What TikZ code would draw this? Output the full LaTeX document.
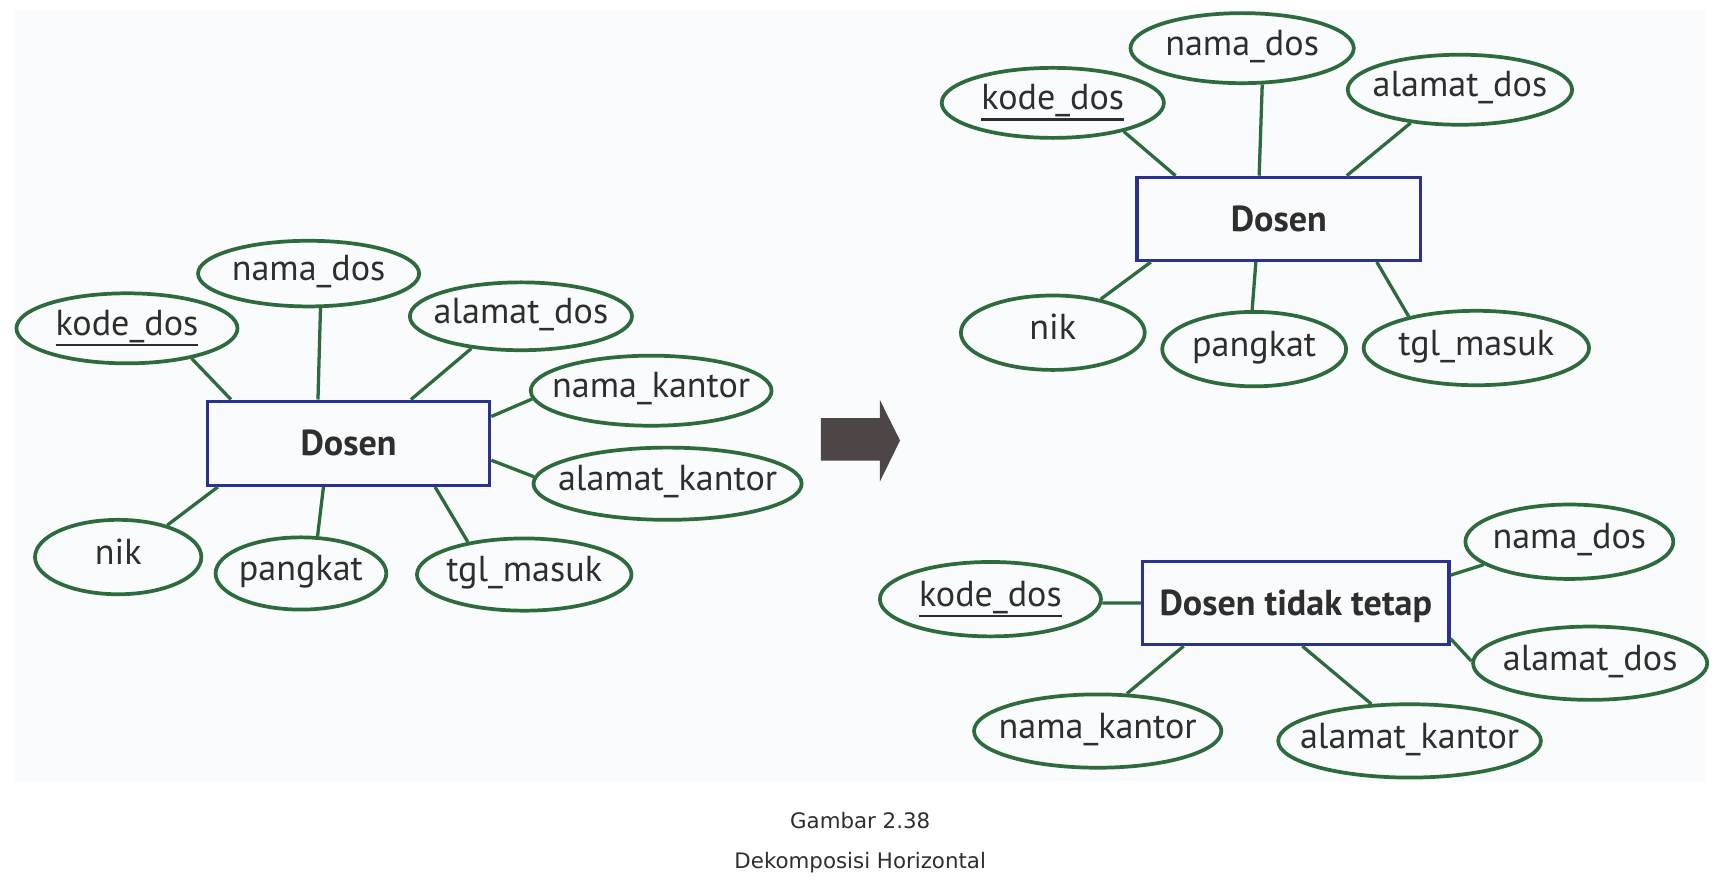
\documentclass[tikz,border=0pt]{standalone}
\usepackage{fontspec}
\setmainfont{PT Sans}
\newfontfamily\capfont{DejaVu Sans}
\usetikzlibrary{shapes.geometric,calc}
\definecolor{attrgreen}{HTML}{2E6B3C}
\definecolor{entblue}{HTML}{2B3190}
\definecolor{arrgray}{HTML}{4D4546}
\definecolor{txtgray}{HTML}{2E2E2E}
\definecolor{bgpaper}{HTML}{F9FBFD}
\newcommand{\attr}[1]{\makebox[0pt]{#1}}
\newcommand{\keyline}[1]{\setbox0=\hbox{#1}\rlap{\smash{\rule[-10pt]{\wd0}{2.4pt}}}\box0}

\begin{document}
\begin{tikzpicture}[x=1pt,y=-1pt,
    attr/.style={ellipse,draw=attrgreen,line width=3.4pt,inner sep=0pt,text=txtgray,
      text height=21pt,text depth=8pt,font=\fontsize{33}{37}\selectfont},
    ent/.style={rectangle,draw=entblue,line width=2.9pt,inner sep=0pt,text=txtgray,
      text height=23pt,text depth=0pt,font=\fontsize{33}{37}\selectfont\bfseries},
    link/.style={draw=attrgreen,line width=3pt},
    capt/.style={anchor=base,text=txtgray,font=\capfont\fontsize{19.5}{23}\selectfont}]
    \useasboundingbox (0,0) rectangle (1568,811);
    \fill[bgpaper] (13.7,9.1) rectangle (1559,714.5);

    \node[ent,minimum width=258,minimum height=77] (dosenL) at (318.5,405) {Dosen};
    \node[attr,minimum width=202,minimum height=64] (kodeL) at (116,300) {\attr{\keyline{kode\_dos}}};
    \node[attr,minimum width=202,minimum height=60] (namaL) at (282,250) {\attr{nama\_dos}};
    \node[attr,minimum width=203,minimum height=62] (alamatL) at (476,289) {\attr{alamat\_dos}};
    \node[attr,minimum width=220,minimum height=64] (nkantorL) at (595,357) {\attr{nama\_kantor}};
    \node[attr,minimum width=245,minimum height=66] (akantorL) at (610,442) {\attr{alamat\_kantor}};
    \node[attr,minimum width=152,minimum height=68] (nikL) at (108,509) {\attr{nik}};
    \node[attr,minimum width=156,minimum height=66] (pangkatL) at (275,524) {\attr{pangkat}};
    \node[attr,minimum width=196,minimum height=66] (tglL) at (479,525) {\attr{tgl\_masuk}};
    \draw[link] (kodeL.-25) -- ($(dosenL.north west)+(23,0)$);
    \draw[link] (namaL.-71.5) -- ($(dosenL.north west)+(102.5,0)$);
    \draw[link] (alamatL.-147) -- ($(dosenL.north west)+(187.5,0)$);
    \draw[link] (nkantorL.184) -- ($(dosenL.north east)+(0,15.5)$);
    \draw[link] (akantorL.177.6) -- ($(dosenL.north east)+(0,55.5)$);
    \draw[link] (nikL.33.6) -- ($(dosenL.south west)+(11,0)$);
    \draw[link] (pangkatL.66.4) -- ($(dosenL.south west)+(107.5,0)$);
    \draw[link] (tglL.150) -- ($(dosenL.south west)+(209.5,0)$);

    \fill[arrgray] (750,382) -- (804,382) -- (804,365.5) -- (822.4,402.5) -- (804,440) -- (804,421) -- (750,421) -- cycle;

    \node[ent,minimum width=259,minimum height=76] (dosenU) at (1168.5,200) {Dosen};
    \node[attr,minimum width=203,minimum height=64] (kodeU) at (962,94) {\attr{\keyline{kode\_dos}}};
    \node[attr,minimum width=204,minimum height=64] (namaU) at (1135,44) {\attr{nama\_dos}};
    \node[attr,minimum width=205,minimum height=64] (alamatU) at (1334,82) {\attr{alamat\_dos}};
    \node[attr,minimum width=168,minimum height=68] (nikU) at (962,304) {\attr{nik}};
    \node[attr,minimum width=168,minimum height=68] (pangkatU) at (1146,319) {\attr{pangkat}};
    \node[attr,minimum width=206,minimum height=68] (tglU) at (1349,318) {\attr{tgl\_masuk}};
    \draw[link] (kodeU.-22.3) -- ($(dosenU.north west)+(36.6,0)$);
    \draw[link] (namaU.-61.7) -- ($(dosenU.north west)+(113,0)$);
    \draw[link] (alamatU.-146.4) -- ($(dosenU.north west)+(193,0)$);
    \draw[link] (nikU.35) -- ($(dosenU.south west)+(14,0)$);
    \draw[link] (pangkatU.93) -- ($(dosenU.south west)+(110,0)$);
    \draw[link] (tglU.155.8) -- ($(dosenU.south west)+(220.5,0)$);

    \node[ent,minimum width=280,minimum height=76] (dosenT) at (1184,551) {Dosen tidak tetap};
    \node[attr,minimum width=202,minimum height=68] (kodeB) at (905,547.5) {\attr{\keyline{kode\_dos}}};
    \node[attr,minimum width=190,minimum height=68] (namaB) at (1434,495) {\attr{nama\_dos}};
    \node[attr,minimum width=214,minimum height=67] (alamatB) at (1453,606) {\attr{alamat\_dos}};
    \node[attr,minimum width=226,minimum height=67] (nkantorB) at (1003,668) {\attr{nama\_kantor}};
    \node[attr,minimum width=240,minimum height=67] (akantorB) at (1288,677) {\attr{alamat\_kantor}};
    \draw[link] (kodeB.-2) -- (dosenT.west);
    \draw[link] (namaB.195) -- ($(dosenT.north east)+(0,14)$);
    \draw[link] (alamatB.179) -- ($(dosenT.north east)+(0,72)$);
    \draw[link] (nkantorB.52.6) -- ($(dosenT.south west)+(39,0)$);
    \draw[link] (akantorB.136.3) -- ($(dosenT.south west)+(147.5,0)$);

    \node[capt] (capnum) at (786,757) {Gambar 2.38};
    \node[capt] (captitle) at (786,794) {Dekomposisi Horizontal};
\end{tikzpicture}
\end{document}
